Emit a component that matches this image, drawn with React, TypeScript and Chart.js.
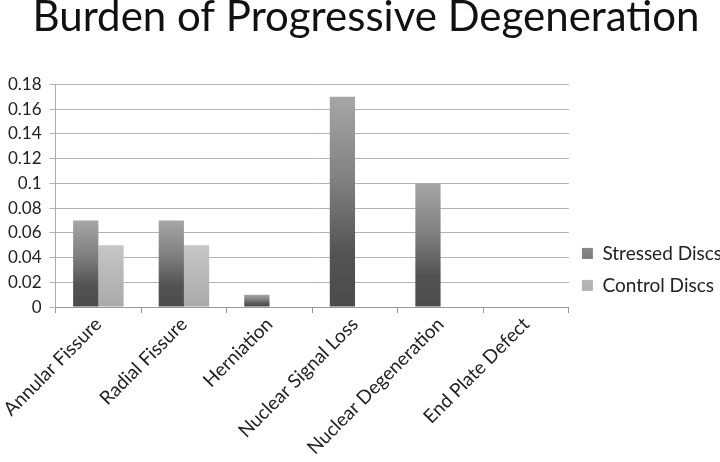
import React, { useEffect, useRef } from "react";
import { Chart, registerables } from "chart.js";

Chart.register(...registerables);

const categories = [
  "Annular Fissure",
  "Radial Fissure",
  "Herniation",
  "Nuclear Signal Loss",
  "Nuclear Degeneration",
  "End Plate Defect",
];
const stressedDiscs = [0.07, 0.07, 0.01, 0.17, 0.1, 0];
const controlDiscs = [0.05, 0.05, 0, 0, 0, 0];
const yTicks = [0, 0.02, 0.04, 0.06, 0.08, 0.1, 0.12, 0.14, 0.16, 0.18];

const FONT = "Lato";

function gradientFill(stops: [number, string][], solid: string) {
  return (ctx: any) => {
    const chart = ctx.chart;
    if (ctx.dataIndex === undefined || !chart.chartArea || !chart.scales.y) return solid;
    const v = ctx.dataset.data[ctx.dataIndex];
    const y = chart.scales.y;
    const top = y.getPixelForValue(v);
    const bottom = y.getPixelForValue(0);
    if (!isFinite(top) || !isFinite(bottom) || Math.abs(bottom - top) < 1) return solid;
    const g = chart.ctx.createLinearGradient(0, bottom, 0, top);
    stops.forEach(([o, c]) => g.addColorStop(o, c));
    return g;
  };
}

export default function App() {
  const ref = useRef<HTMLCanvasElement>(null);
  useEffect(() => {
    if (!ref.current) return;
    const chart = new Chart(ref.current, {
      type: "bar",
      data: {
        labels: categories,
        datasets: [
          {
            label: "Stressed Discs",
            data: stressedDiscs,
            backgroundColor: gradientFill(
              [
                [0, "#4b4b4b"],
                [0.25, "#535353"],
                [0.6, "#808080"],
                [1, "#a6a6a6"],
              ],
              "#6a6a6a"
            ),
            borderWidth: 0,
            barPercentage: 1,
            categoryPercentage: 0.59,
          },
          {
            label: "Control Discs",
            data: controlDiscs,
            backgroundColor: gradientFill(
              [
                [0, "#a9a9a9"],
                [1, "#c6c6c6"],
              ],
              "#bbbbbb"
            ),
            borderWidth: 0,
            barPercentage: 1,
            categoryPercentage: 0.59,
          },
        ],
      },
      options: {
        responsive: false,
        animation: false,
        layout: { padding: { left: 0, right: -12, top: 0, bottom: 3 } },
        plugins: {
          title: {
            display: true,
            text: "Burden of Progressive Degeneration",
            color: "#111",
            font: { family: FONT, size: 42, weight: "normal" },
            padding: { top: 1, bottom: 42 },
          },
          legend: {
            position: "right",
            title: { display: true, text: " ", font: { size: 4 }, padding: { top: 84, bottom: 0 } },
            labels: {
              color: "#222",
              font: { family: FONT, size: 19 },
              boxWidth: 11,
              boxHeight: 11,
              padding: 13,
            },
          },
          tooltip: { enabled: false },
        },
        scales: {
          x: {
            grid: { display: true, drawOnChartArea: false, color: "#999", tickLength: 6, offset: true },
            border: { display: true, color: "#999" },
            ticks: {
              color: "#222",
              font: { family: FONT, size: 19 },
              maxRotation: 45,
              minRotation: 45,
              autoSkip: false,
              padding: 0,
            },
          },
          y: {
            min: 0,
            max: 0.18,
            afterBuildTicks: (axis: any) => {
              axis.ticks = yTicks.map((v) => ({ value: v }));
            },
            grid: { color: "#b3b3b3", tickLength: 6 },
            border: { display: true, color: "#aaa" },
            ticks: {
              color: "#222",
              font: { family: FONT, size: 17 },
              padding: 8,
              autoSkip: false,
              callback: (v: any) => String(Number(v)),
            },
          },
        },
      },
    });
    return () => chart.destroy();
  }, []);
  return (
    <div style={{ position: "fixed", left: 0, top: -9, width: 720, height: 471, background: "#fff" }}>
      <canvas ref={ref} width={720} height={471} />
    </div>
  );
}
